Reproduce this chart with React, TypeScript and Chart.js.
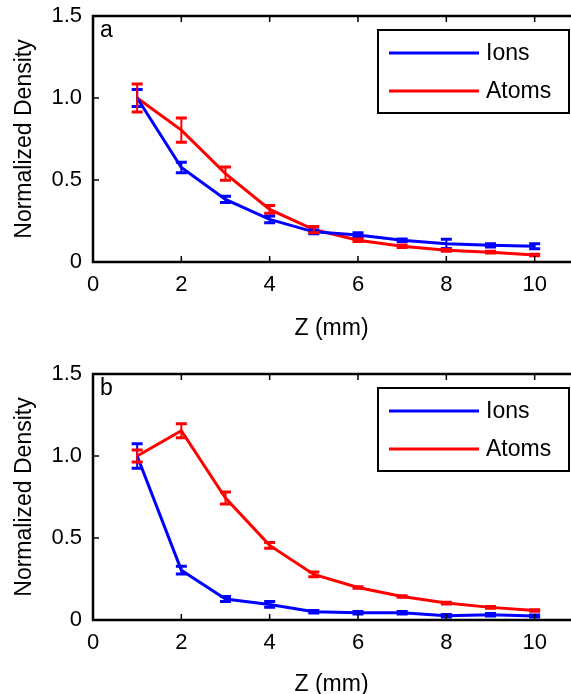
import React, { useEffect, useRef } from 'react';
import { Chart, registerables } from 'chart.js';

Chart.register(...registerables);

// ---- data ----
const zPositions = [1, 2, 3, 4, 5, 6, 7, 8, 9, 10];

const ionsA = [1.0, 0.576, 0.382, 0.26, 0.184, 0.164, 0.133, 0.111, 0.102, 0.096];
const ionsErrA = [0.052, 0.032, 0.019, 0.02, 0.011, 0.015, 0.008, 0.028, 0.01, 0.015];
const atomsA = [1.0, 0.804, 0.539, 0.321, 0.198, 0.133, 0.096, 0.072, 0.06, 0.043];
const atomsErrA = [0.085, 0.074, 0.04, 0.024, 0.019, 0.008, 0.008, 0.006, 0.005, 0.005];

const ionsB = [1.0, 0.304, 0.128, 0.095, 0.05, 0.044, 0.044, 0.026, 0.032, 0.024];
const ionsErrB = [0.075, 0.024, 0.015, 0.018, 0.008, 0.008, 0.008, 0.008, 0.008, 0.006];
const atomsB = [1.0, 1.154, 0.744, 0.455, 0.278, 0.198, 0.143, 0.103, 0.077, 0.058];
const atomsErrB = [0.036, 0.042, 0.036, 0.018, 0.014, 0.005, 0.005, 0.005, 0.005, 0.005];

const xTickValues = [0, 2, 4, 6, 8, 10];
const yTickValues = [0, 0.5, 1.0, 1.5];
const seriesLabels = ['Ions', 'Atoms'];
const seriesColors = ['#0000FF', '#FF0000'];
const xTitle = 'Z (mm)';
const yTitle = 'Normalized Density';

const FONT = "'Liberation Sans', Arial, sans-serif";

interface PanelProps {
  letter: string;
  ions: number[];
  ionsErr: number[];
  atoms: number[];
  atomsErr: number[];
  topPad: number;
  xAxisHeight: number;
  xTitlePad: number;
}

const errorBarPlugin = {
  id: 'errorBars',
  afterDatasetsDraw(chart: any) {
    const ctx = chart.ctx;
    const xs = chart.scales.x;
    const ys = chart.scales.y;
    chart.data.datasets.forEach((ds: any) => {
      const errs: number[] = ds.errors || [];
      ctx.save();
      ctx.strokeStyle = ds.borderColor;
      ds.data.forEach((p: any, i: number) => {
        const e = errs[i] || 0;
        const px = xs.getPixelForValue(p.x);
        const yTop = ys.getPixelForValue(p.y + e);
        const yBot = ys.getPixelForValue(p.y - e);
        const cap = 5.5;
        ctx.lineWidth = 2;
        ctx.beginPath();
        ctx.moveTo(px, yTop);
        ctx.lineTo(px, yBot);
        ctx.stroke();
        ctx.lineWidth = 3;
        ctx.beginPath();
        ctx.moveTo(px - cap, yTop);
        ctx.lineTo(px + cap, yTop);
        ctx.moveTo(px - cap, yBot);
        ctx.lineTo(px + cap, yBot);
        ctx.stroke();
      });
      ctx.restore();
    });
  },
};

const framePlugin = {
  id: 'frame',
  afterDraw(chart: any, _args: any, opts: any) {
    const ctx = chart.ctx;
    const { left, right, top, bottom } = chart.chartArea;
    const xs = chart.scales.x;
    const ys = chart.scales.y;
    ctx.save();
    ctx.strokeStyle = '#000';
    ctx.lineWidth = 2.5;
    ctx.beginPath();
    ctx.moveTo(right + 2, top);
    ctx.lineTo(left, top);
    ctx.lineTo(left, bottom);
    ctx.lineTo(right + 2, bottom);
    ctx.stroke();
    // inward ticks
    ctx.lineWidth = 1.5;
    ctx.beginPath();
    xTickValues.forEach((v) => {
      const px = xs.getPixelForValue(v);
      ctx.moveTo(px, bottom);
      ctx.lineTo(px, bottom - 6);
      ctx.moveTo(px, top);
      ctx.lineTo(px, top + 6);
    });
    yTickValues.forEach((v) => {
      const py = ys.getPixelForValue(v);
      ctx.moveTo(left, py);
      ctx.lineTo(left + 6, py);
    });
    ctx.stroke();

    // panel letter
    ctx.fillStyle = '#000';
    ctx.font = `23px ${FONT}`;
    ctx.textBaseline = 'alphabetic';
    ctx.textAlign = 'left';
    ctx.fillText(opts.letter, left + 7, top + 21);

    // legend
    const bx = left + 285;
    const by = top + 14;
    const bw = 191;
    const bh = 83;
    ctx.fillStyle = '#fff';
    ctx.fillRect(bx, by, bw, bh);
    ctx.lineWidth = 2;
    ctx.strokeStyle = '#000';
    ctx.strokeRect(bx, by, bw, bh);
    chart.data.datasets.forEach((ds: any, i: number) => {
      const ly = by + 23 + i * 38;
      ctx.strokeStyle = ds.borderColor;
      ctx.lineWidth = 3;
      ctx.beginPath();
      ctx.moveTo(bx + 11, ly);
      ctx.lineTo(bx + 101, ly);
      ctx.stroke();
      ctx.fillStyle = '#000';
      ctx.font = `23px ${FONT}`;
      ctx.textBaseline = 'middle';
      ctx.fillText(ds.label, bx + 108, ly + 1);
    });
    ctx.restore();
  },
};

function Panel(props: PanelProps) {
  const ref = useRef<HTMLCanvasElement>(null);
  useEffect(() => {
    if (!ref.current) return;
    const mk = (vals: number[]) => zPositions.map((z, i) => ({ x: z, y: vals[i] }));
    const chart = new Chart(ref.current, {
      type: 'line',
      data: {
        datasets: [
          {
            label: seriesLabels[0],
            data: mk(props.ions),
            errors: props.ionsErr,
            borderColor: seriesColors[0],
            backgroundColor: seriesColors[0],
            borderWidth: 3,
            pointRadius: 0,
            tension: 0,
          } as any,
          {
            label: seriesLabels[1],
            data: mk(props.atoms),
            errors: props.atomsErr,
            borderColor: seriesColors[1],
            backgroundColor: seriesColors[1],
            borderWidth: 3,
            pointRadius: 0,
            tension: 0,
          } as any,
        ],
      },
      options: {
        animation: false,
        responsive: false,
        devicePixelRatio: 1,
        layout: { padding: { top: props.topPad, right: 1, left: 0, bottom: 0 } },
        plugins: {
          legend: { display: false },
          tooltip: { enabled: false },
          frame: { letter: props.letter },
        } as any,
        scales: {
          x: {
            type: 'linear',
            min: 0,
            max: 10.8,
            grid: { display: false, drawTicks: false },
            border: { display: false },
            afterBuildTicks: (s: any) => {
              s.ticks = xTickValues.map((v) => ({ value: v }));
            },
            afterFit: (s: any) => {
              s.height = props.xAxisHeight;
              s.paddingLeft = 0;
              s.paddingRight = 0;
            },
            ticks: {
              padding: 10,
              color: '#000',
              font: { family: FONT, size: 22 },
              maxRotation: 0,
              callback: (v: any) => String(v),
            },
            title: {
              display: true,
              text: xTitle,
              color: '#000',
              font: { family: FONT, size: 23 },
              padding: { top: 0, bottom: props.xTitlePad },
            },
          },
          y: {
            type: 'linear',
            min: 0,
            max: 1.5,
            grid: { display: false, drawTicks: false },
            border: { display: false },
            afterBuildTicks: (s: any) => {
              s.ticks = yTickValues.map((v) => ({ value: v }));
            },
            afterFit: (s: any) => {
              s.width = 93;
              s.paddingTop = 0;
              s.paddingBottom = 0;
            },
            ticks: {
              padding: 11,
              color: '#000',
              font: { family: FONT, size: 22 },
              callback: (v: any) => (Number(v) === 0 ? '0' : Number(v).toFixed(1)),
            },
            title: {
              display: true,
              text: yTitle,
              color: '#000',
              font: { family: FONT, size: 23 },
              padding: { top: 11, bottom: 0 },
            },
          },
        },
      } as any,
      plugins: [errorBarPlugin, framePlugin],
    });
    return () => chart.destroy();
  }, []);
  return <canvas ref={ref} width={571} height={347} style={{ display: 'block' }} />;
}

export default function App() {
  return (
    <div style={{ position: 'absolute', left: 0, top: 0, width: 571, height: 694, background: '#fff', overflow: 'hidden' }}>
      <Panel
        letter="a"
        ions={ionsA}
        ionsErr={ionsErrA}
        atoms={atomsA}
        atomsErr={atomsErrA}
        topPad={16}
        xAxisHeight={85}
        xTitlePad={5}
      />
      <Panel
        letter="b"
        ions={ionsB}
        ionsErr={ionsErrB}
        atoms={atomsB}
        atomsErr={atomsErrB}
        topPad={27}
        xAxisHeight={74}
        xTitlePad={-4}
      />
    </div>
  );
}
